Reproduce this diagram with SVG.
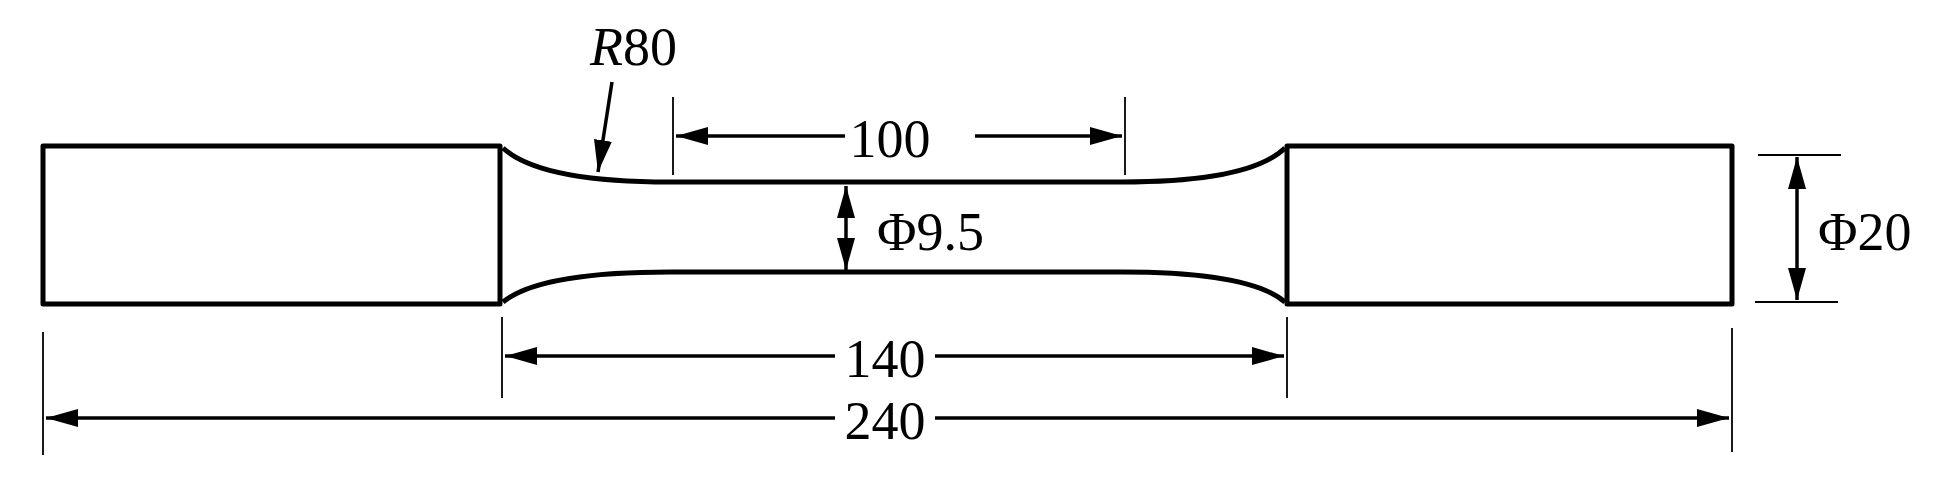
<svg xmlns="http://www.w3.org/2000/svg" width="1944" height="483" viewBox="0 0 1944 483">
<style>
.o{fill:none;stroke:#000;stroke-width:5;stroke-linejoin:round}
.d{fill:none;stroke:#000;stroke-width:3.5}
.e{fill:none;stroke:#000;stroke-width:1.8}
text{font-family:"Liberation Serif",serif;font-size:54px;fill:#000}
</style>
<defs>
<marker id="a" viewBox="0 0 10 10" refX="10" refY="5" markerWidth="32" markerHeight="18" markerUnits="userSpaceOnUse" orient="auto-start-reverse" preserveAspectRatio="none"><path d="M0,0L10,5L0,10z"/></marker>
</defs>
<rect width="1944" height="483" fill="#fff"/>
<g id="specimen">
<rect x="43" y="146" width="457" height="158" class="o"/>
<rect x="1287" y="146" width="445" height="158" class="o"/>
<path class="o" d="M503,148 Q540,182 670,182 L1122,182 Q1250,182 1285,148"/>
<path class="o" d="M503,302 Q540,272 670,272 L1122,272 Q1250,272 1285,302"/>
</g>
<g id="connectors">
<line class="e" x1="673" y1="97" x2="673" y2="175"/>
<line class="e" x1="1125" y1="97" x2="1125" y2="175"/>
<line class="d" x1="676" y1="136" x2="845" y2="136" marker-start="url(#a)"/>
<line class="d" x1="975" y1="136" x2="1122" y2="136" marker-end="url(#a)"/>
<line class="d" x1="846" y1="186" x2="846" y2="270" marker-start="url(#a)" marker-end="url(#a)"/>
<line class="e" x1="1758" y1="155" x2="1841" y2="155"/>
<line class="e" x1="1755" y1="302" x2="1838" y2="302"/>
<line class="d" x1="1797" y1="157" x2="1797" y2="300" marker-start="url(#a)" marker-end="url(#a)"/>
<line class="e" x1="502" y1="317" x2="502" y2="398"/>
<line class="e" x1="1287" y1="317" x2="1287" y2="398"/>
<line class="d" x1="505" y1="356" x2="835" y2="356" marker-start="url(#a)"/>
<line class="d" x1="935" y1="356" x2="1284" y2="356" marker-end="url(#a)"/>
<line class="e" x1="43" y1="332" x2="43" y2="455"/>
<line class="e" x1="1732" y1="328" x2="1732" y2="452"/>
<line class="d" x1="46" y1="418" x2="835" y2="418" marker-start="url(#a)"/>
<line class="d" x1="935" y1="418" x2="1729" y2="418" marker-end="url(#a)"/>
<line class="d" x1="612" y1="82" x2="598" y2="172" marker-end="url(#a)"/>
</g>
<g id="labels">
<text x="890" y="157" text-anchor="middle">100</text>
<text x="877" y="250">Φ9.5</text>
<text x="1818" y="250">Φ20</text>
<text x="885" y="377" text-anchor="middle">140</text>
<text x="885" y="439" text-anchor="middle">240</text>
<text x="590" y="65"><tspan font-style="italic">R</tspan>80</text>
</g>
</svg>
